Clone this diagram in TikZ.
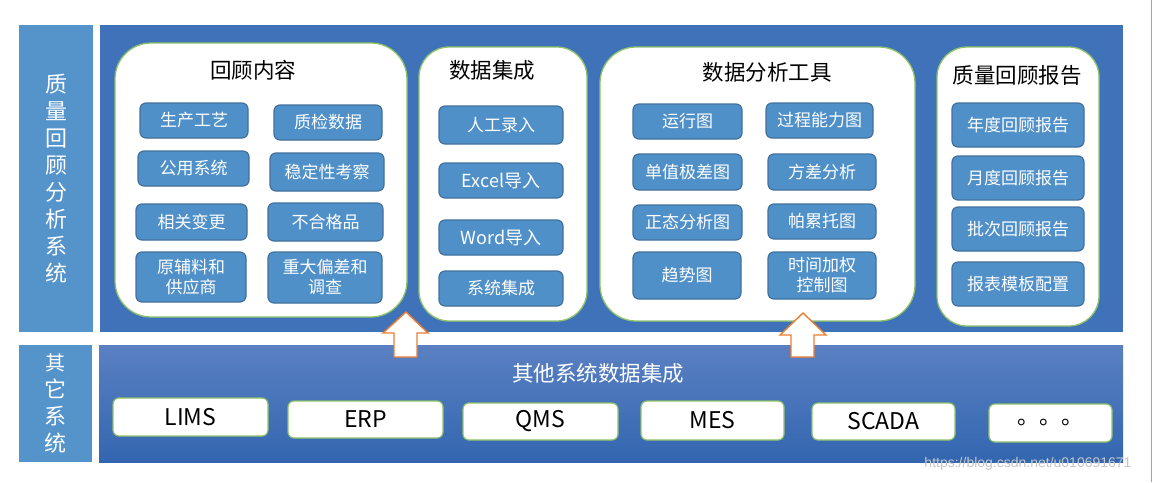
\documentclass[tikz,border=0pt]{standalone}
\usepackage{fontspec}
\setmainfont{Noto Sans CJK SC}
\newfontfamily\wmfont{Liberation Sans}
\definecolor{panelblue}{HTML}{3F72B8}
\definecolor{labelblue}{HTML}{5593CB}
\definecolor{subfill}{HTML}{5090C9}
\definecolor{subdraw}{HTML}{41719C}
\definecolor{grpgreen}{HTML}{8CC26A}
\definecolor{bottop}{HTML}{5A80C2}
\definecolor{botbot}{HTML}{3366B0}
\definecolor{arroworange}{HTML}{ED7D31}
\newcommand\rbox[7]{%
  \pgfmathsetmacro\rbX{(#3+#5)/2}\pgfmathsetmacro\rbY{(#4+#6)/2}%
  \pgfmathsetmacro\rbW{#5-#3}\pgfmathsetmacro\rbH{#6-#4}%
  \node[#1, minimum width=\rbW pt, minimum height=\rbH pt] (#2) at (\rbX,\rbY) {#7};}
\tikzset{
  base/.style={inner sep=0pt, outer sep=0pt, align=center},
  panel/.style={base, fill=panelblue},
  sidelabel/.style={base, fill=labelblue, text=white, font=\fontsize{22}{27}\selectfont},
  grp/.style={base, fill=white, draw=grpgreen, line width=1.3pt, rounded corners=36pt},
  grpsmall/.style={grp, rounded corners=30pt},
  grptitle/.style={base, text=black, font=\fontsize{21.5}{24}\selectfont},
  sub/.style={base, fill=subfill, draw=subdraw, line width=1.2pt, rounded corners=6pt, text=white, font=\fontsize{17}{20}\selectfont},
  sysbox/.style={base, fill=white, draw=grpgreen, line width=1.2pt, rounded corners=6pt, text=black, font=\fontsize{23}{26}\selectfont},
  bigarrow/.style={fill=white, draw=arroworange, line width=1.4pt, line join=miter},
}
\begin{document}
\begin{tikzpicture}[x=1pt,y=-1pt]
\useasboundingbox (0,0) rectangle (1153,482);
\fill[white] (0,0) rectangle (1153,482);
% side labels
\rbox{sidelabel}{lab1}{19}{25}{93}{332}{质\\量\\回\\顾\\分\\析\\系\\统}
\rbox{sidelabel}{lab2}{19}{345}{92}{462}{\fontsize{20}{27}\selectfont 其\\它\\系\\统}
% top panel
\rbox{panel}{top}{100}{25}{1123}{332}{}
% bottom panel with gradient
\node[base, top color=bottop, bottom color=botbot, minimum width=1024pt, minimum height=117pt] (bot) at (611,403.5) {};
% group 1
\rbox{grp}{g1}{115}{43}{407}{317}{}
\node[grptitle] (g1t) at (253,70) {回顾内容};
\rbox{sub}{s11}{140}{103}{248}{138}{生产工艺}
\rbox{sub}{s12}{274}{105}{382}{140}{质检数据}
\rbox{sub}{s13}{138}{151}{249}{186}{公用系统}
\rbox{sub}{s14}{270}{153}{384}{191}{稳定性考察}
\rbox{sub}{s15}{136}{204}{247}{240}{相关变更}
\rbox{sub}{s16}{268}{203}{383}{241}{不合格品}
\rbox{sub}{s17}{136}{252}{246}{302}{原辅料和\\供应商}
\rbox{sub}{s18}{268}{252}{382}{303}{重大偏差和\\调查}
% group 2
\rbox{grpsmall}{g2}{419}{47}{587}{321}{}
\node[grptitle] (g2t) at (492,70) {数据集成};
\rbox{sub}{s21}{439}{106}{563}{144}{人工录入}
\rbox{sub}{s22}{439}{163}{563}{198}{\fontsize{18}{20}\selectfont Excel导入}
\rbox{sub}{s23}{439}{220}{563}{255}{\fontsize{18}{20}\selectfont Word导入}
\rbox{sub}{s24}{439}{271}{563}{306}{系统集成}
% group 3
\rbox{grp}{g3}{600}{47}{915}{321}{}
\node[grptitle] (g3t) at (767,72) {数据分析工具};
\rbox{sub}{s31}{633}{104}{742}{139}{运行图}
\rbox{sub}{s32}{766}{103}{873}{138}{过程能力图}
\rbox{sub}{s33}{633}{154}{742}{190}{单值极差图}
\rbox{sub}{s34}{768}{154}{876}{190}{方差分析}
\rbox{sub}{s35}{633}{205}{742}{240}{正态分析图}
\rbox{sub}{s36}{768}{204}{876}{239}{帕累托图}
\rbox{sub}{s37}{633}{252}{741}{299}{趋势图}
\rbox{sub}{s38}{768}{252}{876}{299}{时间加权\\控制图}
% group 4
\rbox{grpsmall}{g4}{937}{47}{1099}{326}{}
\node[grptitle] (g4t) at (1017,75) {质量回顾报告};
\rbox{sub}{s41}{952}{103}{1084}{147}{年度回顾报告}
\rbox{sub}{s42}{952}{156}{1084}{200}{月度回顾报告}
\rbox{sub}{s43}{952}{207}{1084}{251}{批次回顾报告}
\rbox{sub}{s44}{952}{262}{1084}{306}{报表模板配置}
% bottom
\node[base, text=white, font=\fontsize{21.5}{24}\selectfont] (bott) at (598,373) {其他系统数据集成};
\rbox{sysbox}{b1}{113}{398}{268}{436}{LIMS}
\rbox{sysbox}{b2}{288}{401}{443}{438}{ERP}
\rbox{sysbox}{b3}{463}{403}{618}{440}{QMS}
\rbox{sysbox}{b4}{641}{401}{784}{440}{MES}
\rbox{sysbox}{b5}{812}{403}{955}{440}{SCADA}
\rbox{sysbox}{b6}{989}{404}{1112}{442}{\fontsize{22}{24}\selectfont\raisebox{2pt}{。。。}}
% arrows
\coordinate (a1) at (406,312);
\coordinate (a2) at (803,313);
\draw[bigarrow] (a1) -- ++(22,21) -- ++(-11,0) -- ++(0,24) -- ++(-23,0) -- ++(0,-24) -- ++(-11,0) -- cycle;
\draw[bigarrow] (a2) -- ++(23,22) -- ++(-12,0) -- ++(0,22) -- ++(-23,0) -- ++(0,-22) -- ++(-11,0) -- cycle;
% watermark and edge line
\node[base, text=gray!45, font=\wmfont\fontsize{14}{16}\selectfont] (wm) at (1028,464) {https://blog.csdn.net/u010691671};
\draw[gray!70, line width=1pt] (1151,0) -- (1151,482);
\end{tikzpicture}
\end{document}
